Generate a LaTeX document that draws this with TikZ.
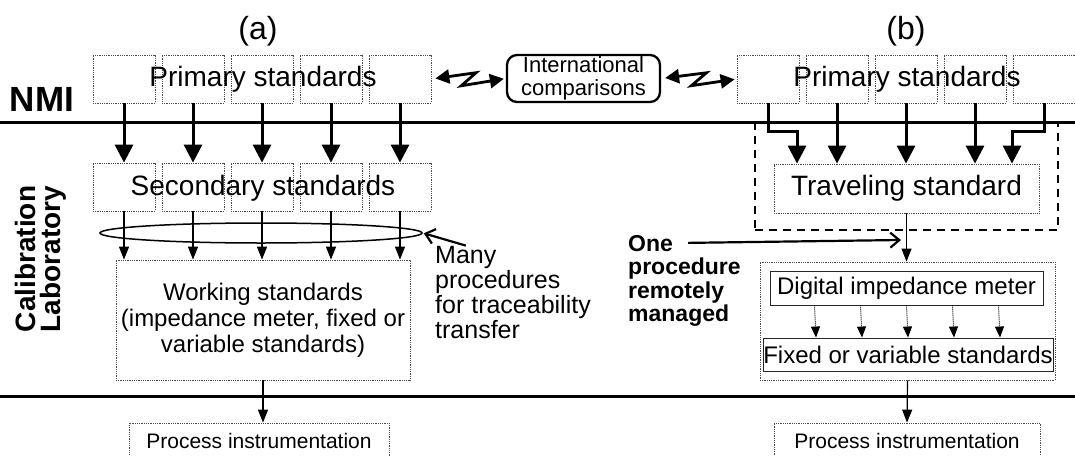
\documentclass[tikz,border=0pt]{standalone}
\usepackage{fontspec}
\setmainfont{Liberation Sans}
\usetikzlibrary{arrows.meta,calc,shapes.geometric}

\tikzset{
    stdbox/.style={draw=black!70,line width=0.8pt,densely dotted,inner sep=0pt},
    solidbox/.style={draw=black!85,line width=0.9pt,inner sep=0pt},
    stdcell/.style={stdbox,minimum width=62pt,minimum height=48pt},
    dashbox/.style={draw,line width=1.3pt,dash pattern=on 8pt off 6pt,inner sep=0pt},
    bigarrow/.style={line width=3pt,-{Triangle[width=18pt,length=18pt]}},
    thinarrow/.style={line width=1.2pt,-{Triangle[width=10pt,length=13pt]}},
    dotarrow/.style={line width=1pt,densely dotted,-{Triangle[width=9pt,length=11pt]}},
    barbarrow/.style={line width=2.2pt,-{Straight Barb[length=9pt,width=15pt]}},
    zigzag/.style={line width=2.8pt,{Triangle[width=14pt,length=14pt]}-{Triangle[width=14pt,length=14pt]},
        shorten <=4pt,shorten >=2pt,
        to path={-- ($(\tikztostart)!0.6!(\tikztotarget)+(0,-6)$)
                 -- ($(\tikztostart)!0.4!(\tikztotarget)+(0,7)$)
                 -- (\tikztotarget) \tikztonodes}},
    divider/.style={line width=3pt},
    bigtxt/.style={font=\fontsize{28}{30}\selectfont},
    midtxt/.style={font=\fontsize{24}{26}\selectfont},
    smalltxt/.style={font=\fontsize{21}{23}\selectfont},
    sidetxt/.style={font=\bfseries\fontsize{28}{25}\selectfont}
}

\begin{document}
\begin{tikzpicture}[x=1pt,y=-1pt]

        % -----------
        % Parameters.
        % -----------

        \pgfmathsetmacro{\xFirstA}{124}     % x-position of first box, group (a).
        \pgfmathsetmacro{\xFirstB}{768}     % x-position of first box, group (b).
        \pgfmathsetmacro{\boxStep}{69}      % Spacing between boxes.
        \pgfmathsetmacro{\yPrimary}{79}     % y-position of primary standards.
        \pgfmathsetmacro{\ySecondary}{187}  % y-position of secondary standards.
        \pgfmathsetmacro{\yLineNMI}{122}    % y-position of NMI border.
        \pgfmathsetmacro{\yLineLab}{396}    % y-position of laboratory border.
        \pgfmathsetmacro{\stepDotted}{46}   % Spacing of dotted arrows.

        \useasboundingbox(0,0)rectangle(1075,455);

        % --------
        % Drawing.
        % --------

        % Remotely managed part.
        \node[dashbox,minimum width=303pt,minimum height=108pt](remote)at(906.5,176){};

        % Borders.
        \draw[divider](0,\yLineNMI)--(1075,\yLineNMI);
        \draw[divider](0,\yLineLab)--(1075,\yLineLab);

        % Side labels.
        \node[font=\fontsize{32}{34}\selectfont](labA)at(258,31){(a)};
        \node[font=\fontsize{32}{34}\selectfont](labB)at(906,31){(b)};
        \node[font=\bfseries\fontsize{35}{36}\selectfont](nmi)at(42,99){NMI};
        \node[sidetxt,rotate=90,align=left](calib)at(41,259){Calibration\\Laboratory};

        % Standard boxes.
        \foreach \i in {1,...,5}{
            \pgfmathsetmacro{\xBoxA}{\xFirstA+(\i-1)*\boxStep}
            \pgfmathsetmacro{\xBoxB}{\xFirstB+(\i-1)*\boxStep}
            \node[stdcell](pa\i)at(\xBoxA,\yPrimary){};
            \node[stdcell](sa\i)at(\xBoxA,\ySecondary){};
            \node[stdcell](pb\i)at(\xBoxB,\yPrimary){};
        }
        \node[bigtxt](primA)at(263,79){Primary standards};
        \node[bigtxt](secA)at(263,188){Secondary standards};
        \node[bigtxt](primB)at(907,79){Primary standards};

        % International comparisons.
        \node[draw,rounded corners=10pt,line width=2.3pt,inner sep=0pt,minimum width=153pt,minimum height=47pt,
              align=center,font=\fontsize{22}{22.5}\selectfont](intl)at(583.5,78.5){International\\comparisons};
        \draw[zigzag](pa5.east)to(intl.west);
        \draw[zigzag](intl.east)to(pb1.west);

        % Group (a).
        \node[stdbox,midtxt,align=center,minimum width=294pt,minimum height=120pt](work)at(263,320)
            {Working standards\\(impedance meter, fixed or\\variable standards)};
        \node[stdbox,smalltxt,minimum width=260pt,minimum height=36pt](procA)at(259,441){Process instrumentation};
        \node[draw,ellipse,line width=1.5pt,inner sep=0pt,minimum width=322pt,minimum height=20pt](procs)at(261,233){};
        \foreach \word [count=\i from 0] in {Many,procedures,for traceability,transfer}
            \node[font=\fontsize{25}{25}\selectfont,anchor=base west,inner sep=0pt](many\i)at(435,{263+25*\i}){\word};

        \foreach \i in {1,...,5}{
            \draw[bigarrow](pa\i.south)--(sa\i.north);
            \draw[thinarrow](sa\i.south)--(sa\i.south|-work.north);
        }
        \draw[barbarrow,shorten >=1pt](many0.north)--(procs.east);
        \draw[thinarrow](work.south)--(work.south|-procA.north);

        % Group (b).
        \node[stdbox,bigtxt,minimum width=265pt,minimum height=49pt](trav)at(906.5,188.5){Traveling standard};
        \node[stdbox,minimum width=295pt,minimum height=118pt](meas)at(907.5,321){};
        \node[solidbox,midtxt,minimum width=273pt,minimum height=34pt](dig)at(906.5,288){Digital impedance meter};
        \node[solidbox,midtxt,minimum width=290pt,minimum height=33pt](fix)at(908,354.5){Fixed or variable standards};
        \node[stdbox,smalltxt,minimum width=266pt,minimum height=36pt](procB)at(907,441){Process instrumentation};
        \foreach \word [count=\i from 0] in {One,procedure,remotely,managed}
            \node[font=\bfseries\fontsize{23}{23}\selectfont,anchor=base west,inner sep=0pt](one\i)at(628,{251+23.5*\i}){\word};

        \coordinate(bendL)at(797,131);
        \coordinate(bendR)at(1012,131);
        \draw[bigarrow](pb1.south)|-(bendL)--(bendL|-trav.north);
        \draw[bigarrow](pb5.south)|-(bendR)--(bendR|-trav.north);
        \foreach \i in {2,3,4}
            \draw[bigarrow](pb\i.south)--(pb\i.south|-trav.north);

        \draw[thinarrow](trav.south)--(trav.south|-meas.north);
        \foreach \i in {-2,...,2}
            \draw[dotarrow]($(dig.south)+(\i*\stepDotted,0)$)--($(fix.north)+(\i*\stepDotted,0)$);
        \draw[thinarrow](meas.south)--(procB.north);

        \coordinate(oneTip)at(901,240);
        \draw[barbarrow,shorten <=15pt](one0.east)--(oneTip);

\end{tikzpicture}
\end{document}
